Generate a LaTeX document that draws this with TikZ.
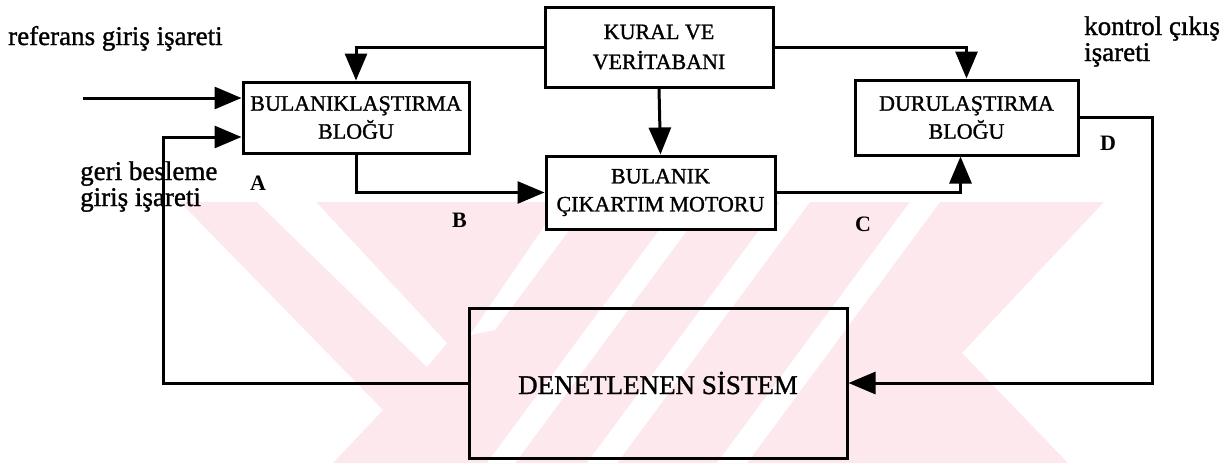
\documentclass[tikz,border=0pt]{standalone}
\usepackage{fontspec}
\setmainfont{Liberation Serif}[BoldFont=Liberation Serif, BoldFeatures={FakeBold=1.2}]
\newfontfamily\ptfont{Liberation Serif Bold}
\usetikzlibrary{arrows.meta}
\definecolor{wm}{RGB}{253,233,237}
\begin{document}
\begin{tikzpicture}[x=1pt,y=-1pt,
  box/.style={draw=black, line width=3pt, rectangle, inner sep=0pt, align=center, font=\bfseries\fontsize{22}{28}\selectfont},
  lbl/.style={font=\bfseries\fontsize{27}{27}\selectfont, inner sep=0pt, anchor=base west},
  ptl/.style={font=\ptfont\fontsize{22}{22}\selectfont, inner sep=0pt, anchor=base west},
  conn/.style={line width=3pt},
  arr/.style={conn, -{Triangle[length=27pt,width=22pt]}},
]
\useasboundingbox (0,0) rectangle (1231,463);
% watermark
\fill[wm] (180,202) -- (1104,202) -- (962,353) -- (1068,463) -- (333,463) -- (383,410) -- cycle;
\fill[white] (257,202) -- (316,202) -- (447,343) -- (427,367) -- cycle;
\fill[white] (561,202) -- (590,202) -- (495,330) -- (470,335) -- cycle;
\fill[white] (680,202) -- (708,202) -- (515,463) -- (487,463) -- cycle;
\fill[white] (780,202) -- (810,202) -- (617,463) -- (587,463) -- cycle;
\fill[white] (910,202) -- (940,202) -- (747,463) -- (717,463) -- cycle;
% blocks
\node[box, minimum width=226, minimum height=71] (fuzz) at (356,117.5) {BULANIKLAŞTIRMA\\BLOĞU};
\node[box, minimum width=228, minimum height=80, font=\bfseries\fontsize{22}{30}\selectfont] (kb) at (659,47) {KURAL VE\\VERİTABANI};
\node[box, fill=white, minimum width=229, minimum height=73] (inf) at (660.5,192.5) {BULANIK\\ÇIKARTIM MOTORU};
\node[box, minimum width=223, minimum height=75] (defuzz) at (966.5,117.5) {DURULAŞTIRMA\\BLOĞU};
\node[box, minimum width=378, minimum height=150, font=\bfseries\fontsize{27}{27}\selectfont] (plant) at (658,383) {DENETLENEN SİSTEM};
% labels
\node[lbl] (ref) at (8,45) {referans giriş işareti};
\node[lbl] (geri) at (80,180) {geri besleme};
\node[lbl] (giris) at (80,206) {giriş işareti};
\node[lbl] (kont) at (1084,35) {kontrol çıkış};
\node[lbl] (isa) at (1084,61) {işareti};
\node[ptl] (A) at (250,190) {A};
\node[ptl] (B) at (452,227) {B};
\node[ptl] (C) at (855,231) {C};
\node[ptl] (D) at (1100,150) {D};
% connectors
\coordinate (rin) at (83,98);
\coordinate (fb) at (163,137);
\coordinate (rt) at (1152,383);
\draw[arr] (rin) -- (rin -| fuzz.west);
\draw[arr] (plant.west) -| (fb) -- (fb -| fuzz.west);
\draw[arr] (kb.west) -| (fuzz.north);
\draw[arr] (kb.east) -| (defuzz.north);
\draw[arr] (kb.south) -- (inf.north);
\draw[arr] (fuzz.south) |- (inf.west);
\draw[arr] (inf.east) -| ([xshift=-6pt]defuzz.south);
\draw[arr] (defuzz.east) -| (rt) -- (plant.east);
\end{tikzpicture}
\end{document}
